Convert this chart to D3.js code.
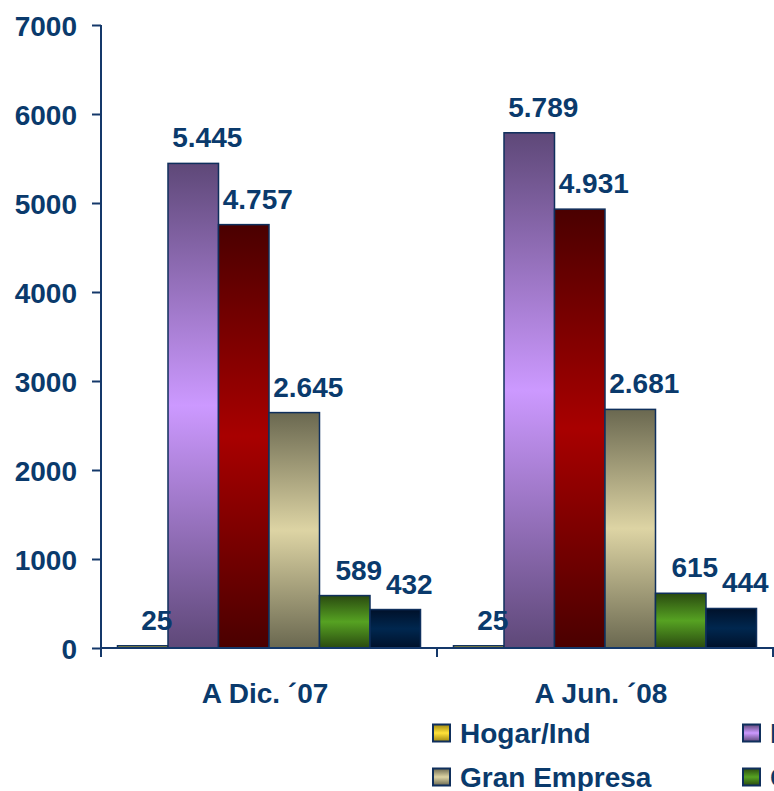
<!DOCTYPE html>
<html>
<head>
  <meta charset='utf-8'>
  <title>Segmentos</title>
  <style>
    html, body { margin: 0; padding: 0; background: #fff; overflow: hidden; }
    svg text { font-family: 'Liberation Sans', Arial, sans-serif; font-weight: bold; fill: #0a3a6c; }
  </style>
  <script src='https://cdn.jsdelivr.net/npm/d3@7/dist/d3.min.js'></script>
</head>
<body>
  <svg id='chart'></svg>
  <script>
    // data
    const periods = ['A Dic. ´07', 'A Jun. ´08'];
    const segments = ['Hogar/Ind', 'Negocios', 'Pyme', 'Gran Empresa', 'Corporaciones', 'Mayorista'];
    const dic07 = [25, 5445, 4757, 2645, 589, 432];
    const jun08 = [25, 5789, 4931, 2681, 615, 444];
    const yTicks = [0, 1000, 2000, 3000, 4000, 5000, 6000, 7000];

    // edge / centre colours of each bar gradient
    const shades = [
      ['#a08810', '#ffe23a'],
      ['#5e4878', '#cc99ff'],
      ['#4a0000', '#a80000'],
      ['#6a6850', '#ddd4a4'],
      ['#2a4a10', '#56a222'],
      ['#00112a', '#00274f']
    ];

    const width = 774, height = 791;
    const svg = d3.select('#chart').attr('width', width).attr('height', height);

    const defs = svg.append('defs');
    shades.forEach((s, i) => {
      const g = defs.append('linearGradient')
        .attr('id', 'grad' + i)
        .attr('x1', 0).attr('y1', 0).attr('x2', 0).attr('y2', 1);
      g.append('stop').attr('offset', '0%').attr('stop-color', s[0]);
      g.append('stop').attr('offset', '50%').attr('stop-color', s[1]);
      g.append('stop').attr('offset', '100%').attr('stop-color', s[0]);
    });

    const plotLeft = 101, plotTop = 25, plotBottom = 648;
    const groupWidth = 336;

    const x0 = d3.scaleBand()
      .domain(periods)
      .range([plotLeft, plotLeft + groupWidth * periods.length]);
    const x1 = d3.scaleBand()
      .domain(segments)
      .range([16.5, groupWidth - 16.5]);
    const y = d3.scaleLinear()
      .domain([0, 7000])
      .range([plotBottom, plotTop]);

    const axisColor = '#14386a';

    // y axis
    const gY = svg.append('g')
      .attr('transform', `translate(${plotLeft}, 0)`)
      .call(d3.axisLeft(y).tickValues(yTicks).tickSize(9).tickPadding(15).tickFormat(d3.format('d')));
    gY.select('.domain').attr('stroke', axisColor).attr('stroke-width', 2)
      .attr('d', `M0,${plotTop}V${plotBottom + 9}`);
    gY.selectAll('.tick line').attr('stroke', axisColor).attr('stroke-width', 2);
    gY.selectAll('.tick text').attr('font-size', 28).attr('dy', '0.36em')
      .style('font-family', "'Liberation Sans', Arial, sans-serif").style('font-weight', 'bold');

    // bars
    const data = [dic07, jun08];
    const groups = svg.append('g').selectAll('g')
      .data(periods)
      .join('g')
      .attr('transform', d => `translate(${x0(d)}, 0)`);

    groups.selectAll('rect')
      .data((p, gi) => segments.map((s, i) => ({ seg: s, i, value: data[gi][i] })))
      .join('rect')
      .attr('x', d => x1(d.seg))
      .attr('y', d => y(d.value))
      .attr('width', x1.bandwidth())
      .attr('height', d => plotBottom - y(d.value))
      .attr('fill', d => `url(#grad${d.i})`)
      .attr('stroke', '#0f2f5c')
      .attr('stroke-width', 1.5);

    // value labels
    const fmt = v => v >= 1000 ? d3.format(',')(v).replace(',', '.') : String(v);
    groups.selectAll('text.value')
      .data((p, gi) => segments.map((s, i) => ({ seg: s, i, value: data[gi][i] })))
      .join('text')
      .attr('class', 'value')
      .attr('x', d => x1(d.seg) + x1.bandwidth() / 2 + 14)
      .attr('y', d => y(d.value) - 16)
      .attr('text-anchor', 'middle')
      .attr('font-size', 28)
      .text(d => fmt(d.value));

    // x axis
    const gX = svg.append('g')
      .attr('transform', `translate(0, ${plotBottom})`);
    gX.append('line')
      .attr('x1', plotLeft).attr('x2', width + 10)
      .attr('stroke', axisColor).attr('stroke-width', 2);
    gX.selectAll('line.tick')
      .data(periods.map(p => x0(p) + x0.bandwidth()))
      .join('line')
      .attr('class', 'tick')
      .attr('x1', d => d).attr('x2', d => d)
      .attr('y1', 0).attr('y2', 9)
      .attr('stroke', axisColor).attr('stroke-width', 2);
    gX.selectAll('text')
      .data(periods)
      .join('text')
      .attr('x', d => x0(d) + x0.bandwidth() / 2 - 4)
      .attr('y', 55)
      .attr('text-anchor', 'middle')
      .attr('font-size', 28)
      .text(d => d);

    // legend, two rows of three (third column runs off the page)
    const legend = svg.append('g');
    const item = legend.selectAll('g')
      .data(segments)
      .join('g')
      .attr('transform', (d, i) => `translate(${433 + (i % 3) * 310}, ${733 + Math.floor(i / 3) * 44})`);
    item.append('rect')
      .attr('x', 0).attr('y', -8.5)
      .attr('width', 17).attr('height', 17)
      .attr('fill', (d, i) => `url(#grad${i})`)
      .attr('stroke', '#0f2f5c')
      .attr('stroke-width', 2);
    item.append('text')
      .attr('x', 27)
      .attr('dy', '0.36em')
      .attr('font-size', 28)
      .text(d => d);
  </script>
</body>
</html>
